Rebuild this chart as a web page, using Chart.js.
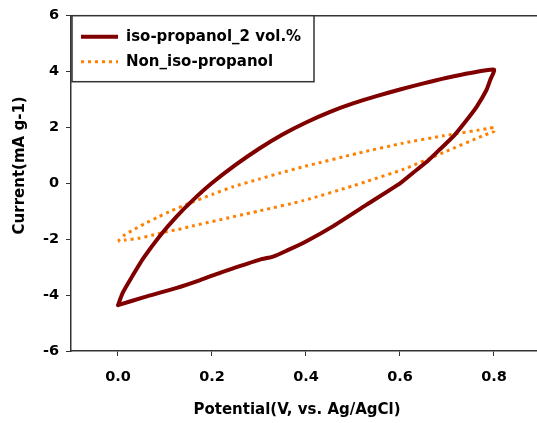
<!DOCTYPE html>
<html><head><meta charset="utf-8">
<script src="https://cdn.jsdelivr.net/npm/chart.js@4/dist/chart.umd.min.js"></script>
<style>html,body{margin:0;padding:0;background:#fff}canvas{display:block}</style>
</head><body>
<canvas id="c" width="537" height="423"></canvas>
<script>
const seriesNames = ["iso-propanol_2 vol.%", "Non_iso-propanol"];
// iso-propanol_2 vol.% : forward (anodic) scan then reverse scan
const isoV = [0, 0.01, 0.026, 0.054, 0.089, 0.125, 0.16, 0.2, 0.25, 0.3, 0.35, 0.4, 0.45, 0.5, 0.55, 0.6, 0.65, 0.7, 0.75, 0.8,
              0.792, 0.784, 0.763, 0.742, 0.713, 0.685, 0.657, 0.628, 0.6, 0.529, 0.458, 0.4, 0.36, 0.33, 0.302, 0.245, 0.217, 0.175, 0.125, 0.054, 0];
const isoI = [-4.36, -3.92, -3.45, -2.68, -1.88, -1.18, -0.59, 0.01, 0.66, 1.24, 1.75, 2.18, 2.55, 2.86, 3.12, 3.36, 3.58, 3.78, 3.95, 4.07,
              3.70, 3.34, 2.74, 2.27, 1.67, 1.22, 0.77, 0.38, 0.0, -0.76, -1.53, -2.08, -2.40, -2.62, -2.73, -3.04, -3.20, -3.46, -3.74, -4.08, -4.36];
// Non_iso-propanol
const nonV = [0, 0.013, 0.03, 0.057, 0.086, 0.114, 0.157, 0.2, 0.245, 0.3, 0.345, 0.398, 0.511, 0.607, 0.692, 0.79, 0.8,
              0.8, 0.777, 0.692, 0.607, 0.529, 0.5, 0.394, 0.302, 0.157, 0.128, 0.1, 0.072, 0.043, 0.015, 0];
const nonI = [-2.07, -1.86, -1.69, -1.44, -1.20, -0.98, -0.68, -0.40, -0.12, 0.15, 0.37, 0.61, 1.08, 1.44, 1.70, 1.97, 2.0,
              1.86, 1.71, 1.10, 0.50, 0.07, -0.09, -0.62, -0.98, -1.53, -1.65, -1.74, -1.86, -1.97, -2.03, -2.07];
const xTicks = [0, 0.2, 0.4, 0.6, 0.8];
const yTicks = [-6, -4, -2, 0, 2, 4, 6];
const xTitle = "Potential(V, vs. Ag/AgCl)";
const yTitle = "Current(mA g-1)";

const FONT = "'DejaVu Sans', 'Liberation Sans', Arial, sans-serif";
Chart.defaults.font.family = FONT;
Chart.defaults.color = "#000";

const toPts = (xs, ys) => xs.map((x, i) => ({x: x, y: ys[i]}));

const framePlugin = {
  id: 'frame',
  afterDraw(chart) {
    const ctx = chart.ctx, a = chart.chartArea;
    ctx.save();
    ctx.strokeStyle = '#333';
    ctx.lineWidth = 1.5;
    ctx.beginPath();
    ctx.moveTo(a.left, a.top);
    ctx.lineTo(a.right, a.top);
    ctx.stroke();
    // axis titles
    ctx.fillStyle = '#000';
    ctx.font = "bold 15px " + FONT;
    ctx.textAlign = 'center';
    ctx.textBaseline = 'middle';
    ctx.fillText(xTitle, a.left + (a.right - a.left) / 2 - 7, 410);
    ctx.save();
    ctx.translate(20, a.top + (a.bottom - a.top) / 2 - 18);
    ctx.rotate(-Math.PI / 2);
    ctx.fillText(yTitle, 0, 0);
    ctx.restore();
    // legend box
    const bx = a.left + 1, by = a.top, bw = 242, bh = 66;
    ctx.fillStyle = '#fff';
    ctx.fillRect(bx, by, bw, bh);
    ctx.strokeStyle = '#333';
    ctx.lineWidth = 1.5;
    ctx.strokeRect(bx, by, bw, bh);
    chart.data.datasets.forEach((ds, i) => {
      const y = by + 21 + i * 25;
      ctx.beginPath();
      ctx.strokeStyle = ds.borderColor;
      ctx.lineWidth = ds.borderWidth;
      ctx.setLineDash(ds.borderDash || []);
      ctx.moveTo(bx + 9, y);
      ctx.lineTo(bx + 46, y);
      ctx.stroke();
      ctx.setLineDash([]);
      ctx.fillStyle = '#000';
      ctx.font = "bold 15px " + FONT;
      ctx.textBaseline = 'middle';
      ctx.textAlign = 'left';
      ctx.fillText(ds.label, bx + 54, y);
    });
    ctx.restore();
  }
};

new Chart(document.getElementById('c'), {
  type: 'scatter',
  data: {
    datasets: [
      {label: seriesNames[0], data: toPts(isoV, isoI), showLine: true, borderColor: '#800000', backgroundColor: '#800000',
       borderWidth: 4, pointRadius: 0, tension: 0.2, borderJoinStyle: 'round', borderCapStyle: 'round'},
      {label: seriesNames[1], data: toPts(nonV, nonI), showLine: true, borderColor: '#ff8000', backgroundColor: '#ff8000',
       borderWidth: 3, borderDash: [3, 4], pointRadius: 0, tension: 0.2}
    ]
  },
  options: {
    responsive: false,
    animation: false,
    layout: {padding: {top: 14, right: 0, left: 8, bottom: 4}},
    plugins: {legend: {display: false}, tooltip: {enabled: false}},
    scales: {
      x: {
        type: 'linear', min: -0.1, max: 0.8915,
        afterBuildTicks: s => { s.ticks = xTicks.map(v => ({value: v})); },
        afterFit: s => { s.height = 68; },
        ticks: {callback: v => v.toFixed(1), font: {size: 14.5, weight: 'bold'}, padding: 13, maxRotation: 0},
        grid: {display: true, drawOnChartArea: false, tickLength: 5, color: '#333'},
        border: {display: true, color: '#333', width: 1.5},
        title: {display: false}
      },
      y: {
        type: 'linear', min: -6, max: 6,
        afterBuildTicks: s => { s.ticks = yTicks.map(v => ({value: v})); },
        afterFit: s => { s.width = 63; },
        ticks: {callback: v => String(v), font: {size: 14.5, weight: 'bold'}, padding: 7},
        grid: {display: true, drawOnChartArea: false, tickLength: 5, color: '#333'},
        border: {display: true, color: '#333', width: 1.5},
        title: {display: false}
      }
    }
  },
  plugins: [framePlugin]
});
</script>
</body></html>
